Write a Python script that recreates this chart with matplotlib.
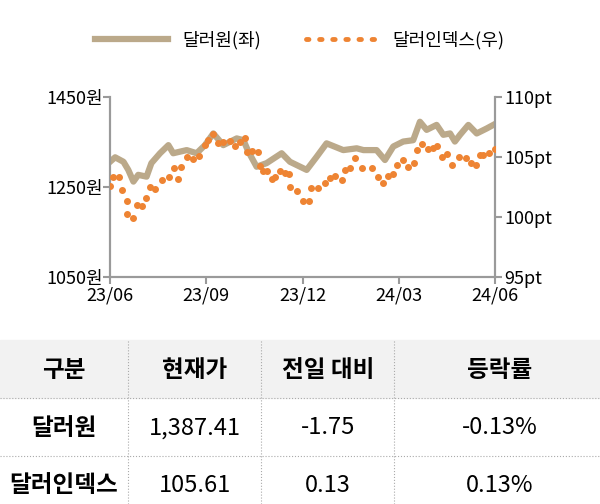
import matplotlib
matplotlib.use("Agg")
import matplotlib.pyplot as plt
from matplotlib.lines import Line2D
from matplotlib import font_manager

names = {f.name for f in font_manager.fontManager.ttflist}
fams = [n for n in ["Noto Sans CJK KR", "Noto Sans CJK JP", "Noto Sans CJK SC", "Noto Sans CJK TC"] if n in names]
plt.rcParams["font.family"] = fams + ["DejaVu Sans"]

# months since 2023-06
krw_x = [0.0, 0.16, 0.42, 0.57, 0.73, 0.88, 1.14, 1.29, 1.56, 1.82, 1.97, 2.39, 2.70, 2.96, 3.22, 3.53, 3.95, 4.16, 4.31, 4.57, 4.88, 5.35, 5.61, 6.13, 6.44, 6.75, 7.27, 7.69, 7.90, 8.31, 8.57, 8.83, 9.14, 9.45, 9.66, 9.87, 10.18, 10.39, 10.60, 10.75, 10.91, 11.17, 11.43, 11.74, 12.0]
krw = [1306, 1316, 1306, 1288, 1262, 1277, 1273, 1303, 1325, 1343, 1325, 1332, 1325, 1343, 1369, 1343, 1358, 1354, 1329, 1295, 1303, 1325, 1306, 1288, 1317, 1347, 1332, 1336, 1332, 1332, 1310, 1340, 1351, 1354, 1395, 1377, 1388, 1366, 1369, 1351, 1366, 1388, 1369, 1380, 1390]

dxy_x = [0.0, 0.10, 0.29, 0.36, 0.52, 0.54, 0.71, 0.83, 0.99, 1.12, 1.25, 1.40, 1.61, 1.85, 1.99, 2.13, 2.20, 2.39, 2.60, 2.78, 2.96, 3.06, 3.22, 3.38, 3.53, 3.74, 3.90, 4.05, 4.21, 4.28, 4.42, 4.62, 4.68, 4.78, 4.88, 5.04, 5.14, 5.30, 5.46, 5.59, 5.61, 5.82, 6.03, 6.21, 6.26, 6.49, 6.70, 6.86, 7.01, 7.22, 7.33, 7.48, 7.64, 7.84, 8.16, 8.36, 8.52, 8.68, 8.83, 8.94, 9.14, 9.30, 9.48, 9.56, 9.71, 9.92, 10.08, 10.18, 10.34, 10.51, 10.65, 10.89, 11.10, 11.24, 11.41, 11.53, 11.64, 11.82, 12.0]
dxy = [102.58, 103.31, 103.31, 102.25, 101.33, 100.22, 99.89, 101.0, 100.92, 101.56, 102.47, 102.36, 103.08, 103.36, 104.06, 103.14, 104.2, 105.03, 104.81, 105.11, 106.0, 106.42, 106.92, 106.14, 106.28, 106.36, 105.92, 106.28, 106.56, 105.44, 105.5, 105.44, 104.25, 103.86, 103.86, 103.14, 103.36, 103.86, 103.64, 103.58, 102.47, 102.19, 101.33, 101.33, 102.39, 102.39, 102.81, 103.22, 103.44, 103.08, 103.92, 104.06, 104.89, 104.11, 104.06, 103.36, 102.81, 103.44, 103.58, 104.33, 104.75, 104.14, 104.47, 105.58, 106.06, 105.67, 105.72, 105.92, 105.03, 105.25, 104.31, 105.03, 104.89, 104.53, 104.31, 105.17, 105.17, 105.36, 105.67]

xticks = [0, 3, 6, 9, 12]
xlabels = ["23/06", "23/09", "23/12", "24/03", "24/06"]
lticks = [1050, 1250, 1450]
lticklabels = ["1050원", "1250원", "1450원"]
rticks = [95, 100, 105, 110]
rticklabels = ["95pt", "100pt", "105pt", "110pt"]

header = ["구분", "현재가", "전일 대비", "등락률"]
rows = [["달러원", "1,387.41", "-1.75", "-0.13%"],
        ["달러인덱스", "105.61", "0.13", "0.13%"]]

W, H = 600, 504
fig = plt.figure(figsize=(6, 5.04), dpi=100)
ax = fig.add_axes([110 / W, 1 - 277 / H, 385 / W, 180 / H])
tan = "#bba98a"
orange = "#ee8433"
gray = "#9a9a9a"
ax.plot(krw_x, krw, color=tan, lw=4.5, solid_joinstyle="round", zorder=2)
ax.set_ylim(1050, 1450)
ax.set_xlim(0, 12)
ax2 = ax.twinx()
ax2.plot(dxy_x, dxy, "o", color=orange, ms=4, zorder=3)
ax2.set_ylim(95, 110)
for a in (ax, ax2):
    a.spines["top"].set_visible(False)
    for s in ("left", "right", "bottom"):
        a.spines[s].set_color(gray)
        a.spines[s].set_linewidth(1.5)
ax.set_xticks(xticks)
ax.set_xticklabels(xlabels, fontsize=13)
ax.set_yticks(lticks)
ax.set_yticklabels(lticklabels, fontsize=13)
ax2.set_yticks(rticks)
ax2.set_yticklabels(rticklabels, fontsize=13)
ax.tick_params(axis="both", color=gray, width=1.5, length=5, pad=2)
ax2.tick_params(axis="y", color=gray, width=1.5, length=5, pad=2)
ax.tick_params(axis="y", pad=0)

handles = [Line2D([], [], color=tan, lw=4.5),
           Line2D([], [], color=orange, ls=":", lw=3.5, dashes=(0.5, 2.2), dash_capstyle="round")]
fig.legend(handles, ["달러원(좌)", "달러인덱스(우)"], loc="center", bbox_to_anchor=(0.5, 1 - 40 / H),
           ncol=2, frameon=False, fontsize=13, handlelength=4, columnspacing=2.5)

def fy(y):
    return 1 - y / H
fig.patches.append(plt.Rectangle((0, fy(398)), 1, 58 / H, transform=fig.transFigure,
                                 color="#f2f2f2", zorder=0))
for y in (398, 456):
    fig.add_artist(Line2D([0, 1], [fy(y), fy(y)], transform=fig.transFigure, color="#aaaaaa", lw=0.8, ls=":"))
for x in (128, 261, 394):
    fig.add_artist(Line2D([x / W, x / W], [0, fy(340)], transform=fig.transFigure, color="#aaaaaa", lw=0.8, ls=":"))
cx = [64, 195, 328, 500]
for i, t in enumerate(header):
    fig.text(cx[i] / W, fy(370), t, ha="center", va="center", fontsize=17, fontweight="bold")
for r, row in enumerate(rows):
    y = [428, 485][r]
    for i, t in enumerate(row):
        fig.text(cx[i] / W, fy(y), t, ha="center", va="center", fontsize=17,
                 fontweight="bold" if i == 0 else "normal")

fig.savefig("out.png", dpi=100)
